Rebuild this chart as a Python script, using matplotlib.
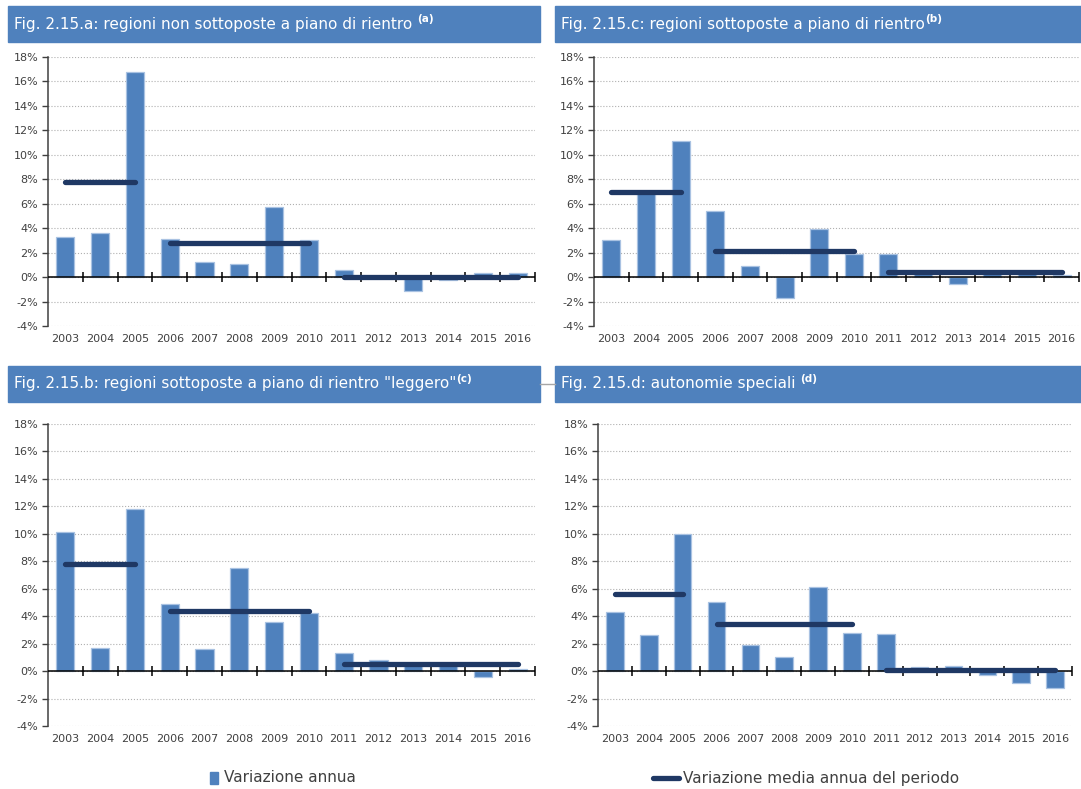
import numpy as np
import matplotlib
matplotlib.use('Agg')
import matplotlib.pyplot as plt
from matplotlib.patches import Rectangle
from matplotlib.lines import Line2D

# ---------------------------------------------------------------
# data (annual change, %)
years = ['2003', '2004', '2005', '2006', '2007', '2008', '2009',
         '2010', '2011', '2012', '2013', '2014', '2015', '2016']

vals_a = [3.3, 3.6, 16.8, 3.1, 1.2, 1.1, 5.7, 3.0, 0.6, -0.1, -1.1, -0.2, 0.3, 0.3]
vals_c = [3.0, 6.9, 11.1, 5.4, 0.9, -1.7, 3.9, 1.9, 1.9, 0.3, -0.6, 0.3, 0.3, 0.2]
vals_b = [10.1, 1.7, 11.8, 4.9, 1.6, 7.5, 3.6, 4.2, 1.3, 0.8, 0.5, 0.5, -0.4, 0.15]
vals_d = [4.3, 2.6, 10.0, 5.0, 1.9, 1.0, 6.1, 2.8, 2.7, 0.3, 0.4, -0.3, -0.9, -1.2]

# period means: (first year, last year, value)
means_a = [('2003', '2005', 7.8), ('2006', '2010', 2.8), ('2011', '2016', 0.0)]
means_c = [('2003', '2005', 7.0), ('2006', '2010', 2.1), ('2011', '2016', 0.4)]
means_b = [('2003', '2005', 7.8), ('2006', '2010', 4.35), ('2011', '2016', 0.5)]
means_d = [('2003', '2005', 5.6), ('2006', '2010', 3.4), ('2011', '2016', 0.1)]

titles = ['Fig. 2.15.a: regioni non sottoposte a piano di rientro ',
          'Fig. 2.15.c: regioni sottoposte a piano di rientro',
          'Fig. 2.15.b: regioni sottoposte a piano di rientro "leggero"',
          'Fig. 2.15.d: autonomie speciali ']
notes = ['(a)', '(b)', '(c)', '(d)']

legend_labels = ['Variazione annua', 'Variazione media annua del periodo']

# ---------------------------------------------------------------
BLUE = '#4F81BD'
EDGE = '#A9C2E2'
NAVY = '#1F3864'
TXT = '#404040'

W, H = 1081, 789
fig = plt.figure(figsize=(W/100, H/100), dpi=100)


def px(x0, y0, x1, y1):
    " pixel box -> figure rect"
    return [x0/W, 1-y1/H, (x1-x0)/W, (y1-y0)/H]


def panel(rect, vals, means):
    ax = fig.add_axes(rect)
    x = np.arange(len(years))
    ax.bar(x, vals, width=0.52, color=BLUE, edgecolor=EDGE, linewidth=0.9, zorder=2)
    ax.axhline(0, color='black', lw=1.1, zorder=3)
    ax.plot(np.arange(len(years)) + 0.5, np.zeros(len(years)), ls='none', marker='|',
            ms=7, mew=1.1, color='black', zorder=3, clip_on=False)
    for y0, y1, m in means:
        ax.plot([years.index(y0), years.index(y1)], [m, m], color=NAVY, lw=3.8,
                solid_capstyle='round', zorder=4)
    ax.set_xlim(-0.5, len(years) - 0.5)
    ax.set_ylim(-4, 18)
    ax.set_yticks(np.arange(-4, 19, 2))
    ax.set_yticklabels(['%d%%' % v for v in range(-4, 19, 2)])
    ax.set_xticks(x)
    ax.set_xticklabels(years)
    ax.tick_params(axis='x', length=0, pad=6, labelsize=8, labelcolor=TXT)
    ax.tick_params(axis='y', length=4, width=1, pad=3, labelsize=8, labelcolor=TXT, color='#404040')
    ax.yaxis.grid(True, linestyle=':', color='#B0B0B0', lw=0.8)
    ax.set_axisbelow(True)
    for s in ['top', 'right', 'bottom']:
        ax.spines[s].set_visible(False)
    ax.spines['left'].set_color('#404040')
    ax.spines['left'].set_linewidth(1.1)
    return ax


def title_bar(x0, y0, x1, y1, text, note):
    fig.patches.append(Rectangle((x0/W, 1-y1/H), (x1-x0)/W, (y1-y0)/H,
                                 transform=fig.transFigure, color=BLUE, zorder=0))
    t = fig.text((x0+6)/W, 1-(y0+y1)/2/H, text, color='white', fontsize=11,
                 va='center', ha='left')
    fig.texts.append(plt.Annotation(note, xy=(1, 0.8), xycoords=t, color='white',
                                    fontsize=7.5, fontweight='bold', va='center', ha='left'))
    fig.texts[-1].set_figure(fig)


panel(px(48, 57, 535, 326), vals_a, means_a)
panel(px(594, 57, 1079, 326), vals_c, means_c)
panel(px(48, 424, 535, 726), vals_b, means_b)
panel(px(598, 424, 1072, 726), vals_d, means_d)

title_bar(8, 6, 540, 42, titles[0], notes[0])
title_bar(555, 6, 1081, 42, titles[1], notes[1])
title_bar(8, 366, 540, 402, titles[2], notes[2])
title_bar(555, 366, 1081, 402, titles[3], notes[3])

# small connector between bottom title bars
fig.lines.append(Line2D([540/W, 555/W], [1-384/H, 1-384/H], transform=fig.transFigure,
                        color='#A6A6A6', lw=1))

# legend
fig.patches.append(Rectangle((210/W, 1-784/H), 8/W, 12/H, transform=fig.transFigure,
                             color=BLUE, zorder=1))
fig.text(224/W, 1-778/H, legend_labels[0], fontsize=11, color=TXT, va='center', ha='left',
         family=['Liberation Sans Narrow', 'DejaVu Sans'])
fig.lines.append(Line2D([653/W, 679/W], [1-778/H, 1-778/H], transform=fig.transFigure,
                        color=NAVY, lw=3.8, solid_capstyle='round'))
fig.text(683/W, 1-778/H, legend_labels[1], fontsize=11, color=TXT, va='center', ha='left',
         family=['Liberation Sans Narrow', 'DejaVu Sans'])

fig.savefig('out.png', dpi=100)
